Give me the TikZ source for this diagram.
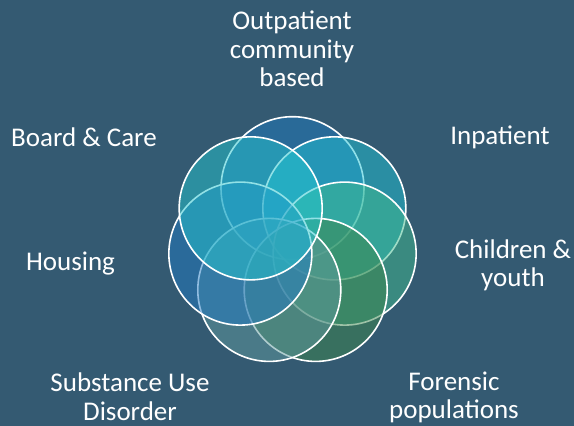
\documentclass[tikz,border=0pt]{standalone}
\usepackage{fontspec}
\setmainfont{Carlito}
\usetikzlibrary{calc}
\definecolor{bgslate}{HTML}{345A72}
\definecolor{cOut}{HTML}{207ABE}
\definecolor{cInp}{HTML}{22C2D4}
\definecolor{cChi}{HTML}{40BA8E}
\definecolor{cFor}{HTML}{3C864E}
\definecolor{cSub}{HTML}{609A9E}
\definecolor{cHou}{HTML}{227AC2}
\definecolor{cBoa}{HTML}{26C4CE}
\tikzset{
  ring/.style={circle, inner sep=0pt, minimum size=143pt, draw=white,
    line width=1.6pt, fill=#1, fill opacity=0.5, draw opacity=1},
  lbl/.style={text=white, font=\fontsize{27}{28.5}\selectfont, align=center,
    inner sep=0pt}
}
\begin{document}
\begin{tikzpicture}[x=1pt,y=1pt]
  \fill[bgslate] (0,0) rectangle (574,426);
  \useasboundingbox (0,0) rectangle (574,426);
  \coordinate (mid) at (292.5,184.3);
  % seven overlapping circles, drawn clockwise from the top
  \node[ring=cOut] (c1) at ($(mid)+(90:53.5)$) {};
  \node[ring=cInp] (c2) at ($(mid)+(38.57:53.5)$) {};
  \node[ring=cChi] (c3) at ($(mid)+(-12.86:53.5)$) {};
  \node[ring=cFor] (c4) at ($(mid)+(-64.29:53.5)$) {};
  \node[ring=cSub] (c5) at ($(mid)+(-115.71:53.5)$) {};
  \node[ring=cHou] (c6) at ($(mid)+(-167.14:53.5)$) {};
  \node[ring=cBoa] (c7) at ($(mid)+(141.43:53.5)$) {};
  % labels
  \node[lbl] (t1) at (292,377) {Outpatient\\community\\based};
  \node[lbl] (t2) at (500,289) {Inpatient};
  \node[lbl] (t3) at (513,160.5) {\fontsize{27}{29.5}\selectfont Children \&\\youth};
  \node[lbl] (t4) at (454,28.8) {Forensic\\populations};
  \node[lbl] (t5) at (130,29.5) {Substance Use\\Disorder};
  \node[lbl] (t6) at (70.5,162) {Housing};
  \node[lbl] (t7) at (84,289) {Board \& Care};
\end{tikzpicture}
\end{document}
